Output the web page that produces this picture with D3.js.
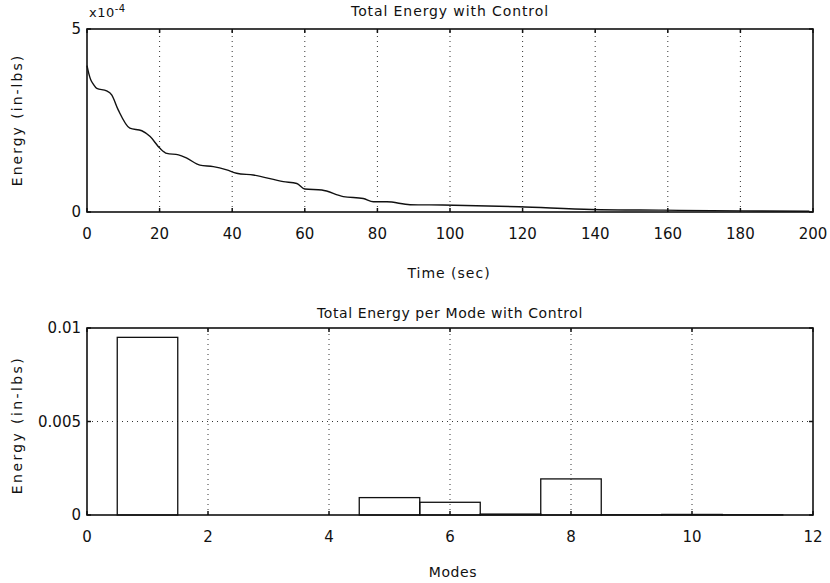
<!DOCTYPE html>
<html>
<head>
<meta charset="utf-8">
<script src="https://cdn.jsdelivr.net/npm/d3@7"></script>
<style>
  body { margin: 0; background: #fff; }
  svg text { font-family: "DejaVu Sans", "Liberation Sans", sans-serif; fill: #111; }
</style>
</head>
<body>
<script>
// ---------------------
// data
// ---------------------
// top: total energy vs time, energy in units of 1e-4 in-lbs
var timeSec = [0, 0.5, 1, 1.7, 2.7, 5.4, 6.8, 8.6, 11.8, 15.1, 17.4, 20.1, 22, 25.2, 27.5, 31.1, 34.8, 38.5, 41.2,
               45.8, 54.1, 57.8, 60, 64.7, 70.6, 76.1, 78.9, 82.6, 89, 98, 119, 139, 158.7, 180.7, 199];
var energyE4 = [4.0, 3.78, 3.62, 3.5, 3.38, 3.31, 3.2, 2.79, 2.29, 2.22, 2.06, 1.74, 1.6, 1.56, 1.47, 1.28, 1.24, 1.15, 1.06,
                1.01, 0.83, 0.78, 0.63, 0.6, 0.42, 0.37, 0.28, 0.28, 0.2, 0.19, 0.145, 0.07, 0.05, 0.03, 0.02];
var timeTicks = [0, 20, 40, 60, 80, 100, 120, 140, 160, 180, 200];
var energyTicks = [0, 5];

// bottom: energy per mode
var modes = [1, 2, 3, 4, 5, 6, 7, 8, 9, 10, 11];
var modeEnergy = [0.0095, 0, 0, 0, 0.00093, 0.00068, 0.00005, 0.00193, 0.00001, 0.00003, 0.00001];
var modeTicks = [0, 2, 4, 6, 8, 10, 12];
var modeEnergyTicks = [0, 0.005, 0.01];

var W = 830, H = 583;
var svg = d3.select("body").append("svg").attr("width", W).attr("height", H);

function drawFrame(g, x, y, xt, yt){
  var x0 = x.range()[0], x1 = x.range()[1], y0 = y.range()[0], y1 = y.range()[1];

  // dotted grid
  g.selectAll(".vg").data(xt.filter(function(d){ return x(d) > x0 + 1 && x(d) < x1 - 1; }))
    .enter().append("line")
    .attr("x1", function(d){ return x(d); }).attr("x2", function(d){ return x(d); })
    .attr("y1", y0).attr("y2", y1)
    .attr("stroke", "#333").attr("stroke-width", 1).attr("stroke-dasharray", "1,4");
  g.selectAll(".hg").data(yt.filter(function(d){ return y(d) < y0 - 1 && y(d) > y1 + 1; }))
    .enter().append("line")
    .attr("x1", x0).attr("x2", x1)
    .attr("y1", function(d){ return y(d); }).attr("y2", function(d){ return y(d); })
    .attr("stroke", "#333").attr("stroke-width", 1).attr("stroke-dasharray", "1,4");

  // box
  g.append("rect").attr("x", x0).attr("y", y1).attr("width", x1 - x0).attr("height", y0 - y1)
    .attr("fill", "none").attr("stroke", "#111").attr("stroke-width", 1.6);

  // inner ticks
  xt.forEach(function(d){
    g.append("line").attr("x1", x(d)).attr("x2", x(d)).attr("y1", y0).attr("y2", y0 - 4).attr("stroke", "#111").attr("stroke-width", 1.5);
    g.append("line").attr("x1", x(d)).attr("x2", x(d)).attr("y1", y1).attr("y2", y1 + 4).attr("stroke", "#111").attr("stroke-width", 1.5);
  });
  yt.forEach(function(d){
    g.append("line").attr("x1", x0).attr("x2", x0 + 4).attr("y1", y(d)).attr("y2", y(d)).attr("stroke", "#111").attr("stroke-width", 1.5);
    g.append("line").attr("x1", x1).attr("x2", x1 - 4).attr("y1", y(d)).attr("y2", y(d)).attr("stroke", "#111").attr("stroke-width", 1.5);
  });

  // tick labels
  g.selectAll(".xl").data(xt).enter().append("text")
    .attr("x", function(d){ return x(d); }).attr("y", y0 + 27)
    .attr("text-anchor", "middle").attr("font-size", 15)
    .text(function(d){ return d; });
  g.selectAll(".yl").data(yt).enter().append("text")
    .attr("x", x0 - 6).attr("y", function(d){ return y(d); }).attr("dy", "0.35em")
    .attr("text-anchor", "end").attr("font-size", 15)
    .text(function(d){ return d; });
}

// ---------------------
// top plot
// ---------------------
var x1s = d3.scaleLinear().domain([0, 200]).range([87, 813]);
var y1s = d3.scaleLinear().domain([0, 5]).range([212, 29]);
var topG = svg.append("g");

drawFrame(topG, x1s, y1s, timeTicks, energyTicks);

var line = d3.line()
  .x(function(d, i){ return x1s(timeSec[i]); })
  .y(function(d){ return y1s(d); })
  .curve(d3.curveMonotoneX);

topG.append("path").datum(energyE4).attr("d", line)
  .attr("fill", "none").attr("stroke", "#111").attr("stroke-width", 1.4);

topG.append("text").attr("x", 450).attr("y", 16).attr("text-anchor", "middle").attr("font-size", 14)
  .attr("letter-spacing", 0.9).text("Total Energy with Control");
var ex = topG.append("text").attr("x", 89).attr("y", 17).attr("font-size", 13).attr("letter-spacing", 0.5);
ex.append("tspan").text("x10");
ex.append("tspan").attr("dy", -5).attr("font-size", 10).text("-4");
topG.append("text").attr("transform", "translate(22,120) rotate(-90)")
  .attr("text-anchor", "middle").attr("font-size", 14).attr("letter-spacing", 2).text("Energy (in-lbs)");
topG.append("text").attr("x", 449).attr("y", 278).attr("text-anchor", "middle").attr("font-size", 14)
  .attr("letter-spacing", 1).text("Time (sec)");

// ---------------------
// bottom plot
// ---------------------
var x2s = d3.scaleLinear().domain([0, 12]).range([87, 813]);
var y2s = d3.scaleLinear().domain([0, 0.01]).range([515, 328]);
var botG = svg.append("g");

drawFrame(botG, x2s, y2s, modeTicks, modeEnergyTicks);

botG.selectAll(".bar").data(modeEnergy).enter().append("rect")
  .attr("x", function(d, i){ return x2s(modes[i] - 0.5); })
  .attr("width", function(d, i){ return x2s(modes[i] + 0.5) - x2s(modes[i] - 0.5); })
  .attr("y", function(d){ return y2s(d); })
  .attr("height", function(d){ return y2s(0) - y2s(d); })
  .attr("fill", "none").attr("stroke", "#111").attr("stroke-width", 1.3);

botG.append("text").attr("x", 450).attr("y", 318).attr("text-anchor", "middle").attr("font-size", 14)
  .attr("letter-spacing", 0.6).text("Total Energy per Mode with Control");
botG.append("text").attr("transform", "translate(22,425) rotate(-90)")
  .attr("text-anchor", "middle").attr("font-size", 14).attr("letter-spacing", 2.4).text("Energy (in-lbs)");
botG.append("text").attr("x", 453).attr("y", 577).attr("text-anchor", "middle").attr("font-size", 14)
  .attr("letter-spacing", 0.6).text("Modes");
</script>
</body>
</html>
